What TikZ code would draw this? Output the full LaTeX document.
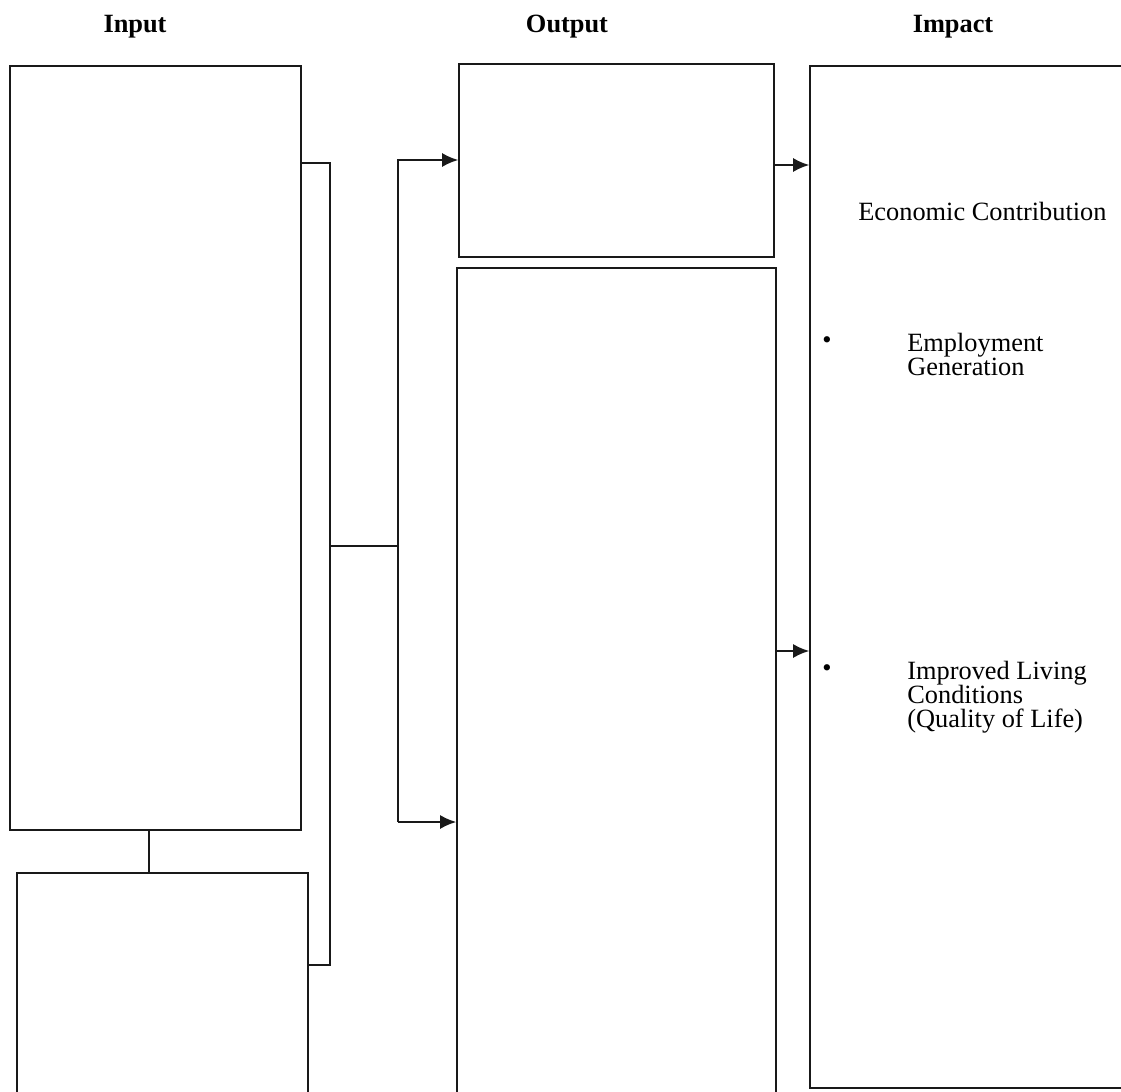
\documentclass[tikz,border=0pt]{standalone}
\usepackage{fontspec}
\setmainfont{Liberation Serif}
\usetikzlibrary{arrows.meta,positioning}

\begin{document}
\begin{tikzpicture}[x=0.02cm,y=-0.02cm,>={Latex[length=3.2mm,width=2.8mm]},
  panel/.style={draw=black!90,line width=1pt,inner sep=0pt},
  head/.style={font=\fontsize{15}{17}\selectfont\bfseries,inner sep=0pt},
  txt/.style={font=\fontsize{15}{13.7}\selectfont,align=left,inner sep=0pt},
  conn/.style={draw=black!90,line width=1pt}]
\useasboundingbox (0,0) rectangle (1121,1091);
\clip (0,0) rectangle (1121,1091);
% column headings
\node[head] (hin) at (135,27) {Input};
\node[head] (hout) at (567,27) {Output};
\node[head] (himp) at (953,27) {Impact};
% boxes
\node[panel,minimum width=5.82cm,minimum height=15.28cm] (in1) at (155.5,448) {};
\node[panel,minimum width=5.82cm,minimum height=5.2cm] (in2) at (162.5,1003) {};
\node[panel,minimum width=6.3cm,minimum height=3.86cm] (out1) at (616.5,160.5) {};
\node[panel,minimum width=6.38cm,minimum height=17.4cm] (out2) at (616.5,703) {};
\node[panel,minimum width=7cm,minimum height=20.44cm] (imp) at (985,577) {};
% impact texts
\node[txt,anchor=base west] (econ) at (858,220) {Economic Contribution};
\node[txt,anchor=base west] (b1) at (822,348) {•};
\node[txt,anchor=north west] (emp) at (907,333) {Employment\\Generation};
\node[txt,anchor=base west] (b2) at (822,676) {•};
\node[txt,anchor=north west] (liv) at (907,661) {Improved Living\\Conditions\\(Quality of Life)};
% connectors
\coordinate (jt) at (330,163);
\coordinate (jm) at (330,546);
\coordinate (jb) at (330,965);
\coordinate (st) at (398,160);
\coordinate (sm) at (398,546);
\coordinate (sb) at (398,822);
\coordinate (lk) at (149,0);
\coordinate (r1) at (0,165);
\coordinate (r2) at (0,651);
\draw[conn] (in1.east |- jt) -- (jt) -- (jb) -- (in2.east |- jb);
\draw[conn] (jm) -- (sm);
\draw[conn,->] (sb) -- (st) -- (out1.west |- st);
\draw[conn,->] (sb) -- (out2.west |- sb);
\draw[conn] (in1.south -| lk) -- (in2.north -| lk);
\draw[conn,->] (out1.east |- r1) -- (imp.west |- r1);
\draw[conn,->] (out2.east |- r2) -- (imp.west |- r2);
\end{tikzpicture}
\end{document}
